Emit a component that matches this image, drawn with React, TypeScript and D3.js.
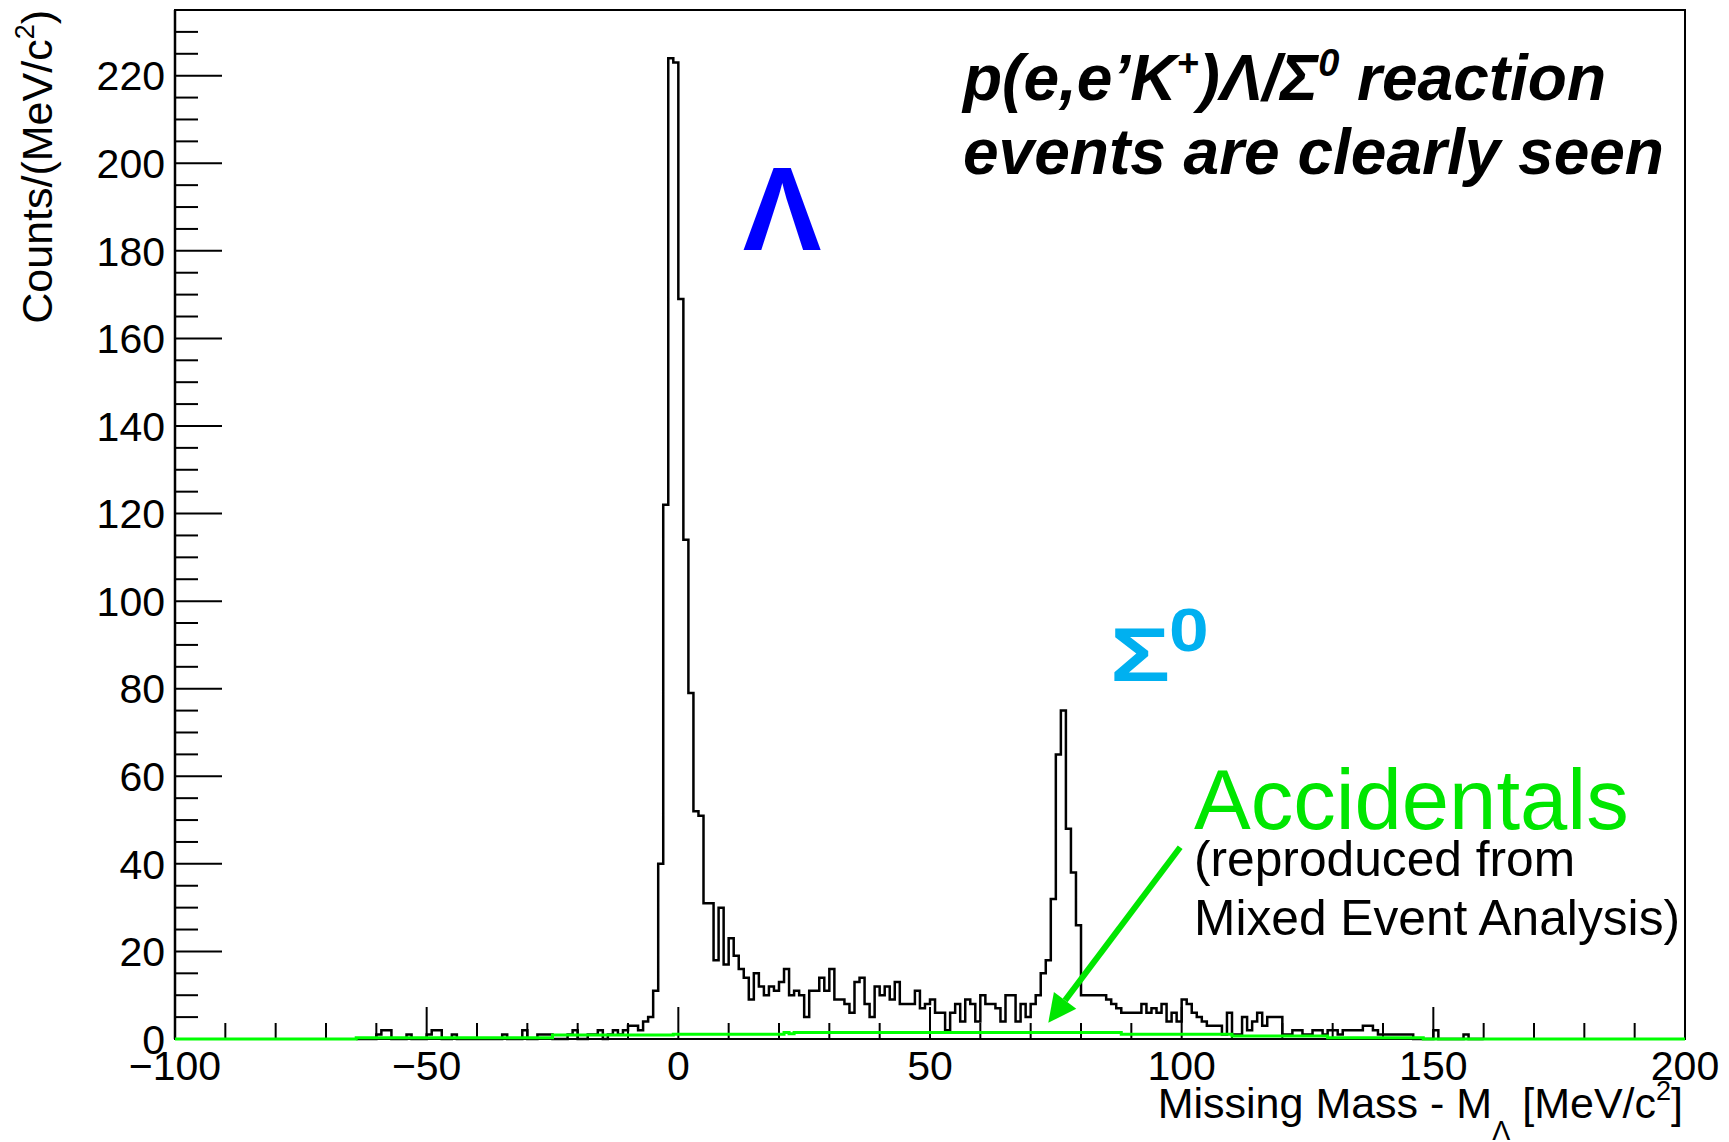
import React from 'react';
import * as d3 from 'd3';

// ---------- data ----------
// Black histogram: 1 MeV/c^2 bins starting at -64 MeV/c^2
const binStart = -64;
const binWidth = 1;
const counts = [
  0, 0, 0, 0, // -64..-61
  1, 2, 2, 0, 0, 0, 1, 0, 0, 0, // -60..-51
  1, 2, 2, 0, 0, 1, 0, 0, 0, 0, // -50..-41
  0, 0, 0, 0, 0, 1, 0, 0, 0, 2, // -40..-31
  0, 0, 1, 1, 1, 0, 0, 0, 1, 2, // -30..-21
  0, 0, 1, 1, 2, 0, 1, 2, 1, 2, // -20..-11
  3, 3, 2, 4, 5, 11, 40, 122, 224, 223, // -10..-1
  169, 114, 79, 52, 51, 31, 31, 18, 30, 17, // 0..9
  23, 19, 16, 14, 9, 15, 12, 10, 12, 11, // 10..19
  13, 16, 10, 11, 10, 5, 11, 11, 14, 11, // 20..29
  16, 9, 9, 8, 6, 13, 14, 8, 5, 12, // 30..39
  10, 12, 9, 13, 8, 8, 8, 11, 7, 8, // 40..49
  9, 6, 6, 2, 6, 8, 4, 9, 8, 4, // 50..59
  10, 8, 8, 7, 4, 10, 10, 4, 8, 5, // 60..69
  8, 10, 15, 18, 32, 65, 75, 48, 38, 26, // 70..79
  10, 10, 10, 10, 10, 9, 8, 7, 6, 6, // 80..89
  6, 6, 8, 6, 7, 6, 8, 4, 6, 4, // 90..99
  9, 8, 6, 5, 4, 3, 3, 3, 1, 6, // 100..109
  1, 1, 5, 2, 4, 6, 3, 5, 5, 5, // 110..119
  1, 1, 2, 2, 1, 1, 2, 2, 1, 2, // 120..129
  2, 1, 2, 2, 2, 2, 3, 3, 2, 1, // 130..139
  1, 1, 1, 1, 1, 1, 0, 0, 0, 0, // 140..149
  2, 0, 0, 0, 0, 0, 1, 0, 0, 0, // 150..159
];

// Accidentals (green): piecewise histogram edges and contents
const accEdges = [-100, -64, -25, -1, 21, 22, 23, 88, 110, 129, 148, 200];
const accValues = [0, 0.3, 0.9, 1.1, 1.5, 1.2, 1.5, 1.1, 0.7, 0.3, 0];

const xMajorTicks = [-100, -50, 0, 50, 100, 150, 200];
const xTickLabels = ['\u2212100', '\u221250', '0', '50', '100', '150', '200'];
const yMajorTicks = [0, 20, 40, 60, 80, 100, 120, 140, 160, 180, 200, 220];
const yTickLabels = ['0', '20', '40', '60', '80', '100', '120', '140', '160', '180', '200', '220'];

const FONT = "'Liberation Sans', Arial, Helvetica, sans-serif";

export default function App() {
  const W = 1729, H = 1142;
  const L = 175, R = 1685, T = 10, B = 1039;
  const x = d3.scaleLinear().domain([-100, 200]).range([L, R]);
  const y = d3.scaleLinear().domain([0, 235]).range([B, T]);

  const line = d3.line<number[]>()
    .x(d => x(d[0]))
    .y(d => y(d[1]))
    .curve(d3.curveStepAfter);

  const hi = binStart + counts.length * binWidth;
  const histPts: number[][] = [
    [binStart, 0],
    ...counts.map((c, i) => [binStart + i * binWidth, c]),
    [hi, counts[counts.length - 1]],
    [hi, 0],
  ];
  const accPts: number[][] = [
    [accEdges[0], 0],
    ...accValues.map((v, i) => [accEdges[i], v]),
    [accEdges[accEdges.length - 1], accValues[accValues.length - 1]],
    [accEdges[accEdges.length - 1], 0],
  ];

  const xMinor = d3.range(-100, 201, 10).filter(v => v % 50 !== 0);
  const yMinor = d3.range(0, 236, 5).filter(v => v % 20 !== 0);

  // arrow (annotation) in data coordinates
  const a0 = [x(99.7), y(43.8)];
  const a1 = [x(73.5), y(3.7)];
  const ang = Math.atan2(a1[1] - a0[1], a1[0] - a0[0]);
  const headLen = 28, headHalf = 14;
  const bx = a1[0] - headLen * Math.cos(ang), by = a1[1] - headLen * Math.sin(ang);
  const px = -Math.sin(ang), py = Math.cos(ang);
  const head = `M${a1[0]},${a1[1]} L${bx + headHalf * px},${by + headHalf * py} L${bx - headHalf * px},${by - headHalf * py} Z`;

  const green = '#00e600';

  return (
    <svg width={W} height={H} style={{ position: 'absolute', left: 0, top: 0, background: '#fff' }}
      xmlns="http://www.w3.org/2000/svg">
      <rect x={0} y={0} width={W} height={H} fill="#fff" />

      {/* ticks */}
      {yMajorTicks.map(v => (
        <line key={'ym' + v} x1={L} x2={L + 47} y1={y(v)} y2={y(v)} stroke="#000" strokeWidth={2} />
      ))}
      {yMinor.map(v => (
        <line key={'yn' + v} x1={L} x2={L + 23} y1={y(v)} y2={y(v)} stroke="#000" strokeWidth={2} />
      ))}
      {xMajorTicks.map(v => (
        <line key={'xm' + v} x1={x(v)} x2={x(v)} y1={B} y2={B - 32} stroke="#000" strokeWidth={2} />
      ))}
      {xMinor.map(v => (
        <line key={'xn' + v} x1={x(v)} x2={x(v)} y1={B} y2={B - 16} stroke="#000" strokeWidth={2} />
      ))}

      {/* frame */}
      <rect x={L} y={T} width={R - L} height={B - T} fill="none" stroke="#000" strokeWidth={2} />
      <line x1={L} x2={L} y1={T} y2={B} stroke="#000" strokeWidth={2.5} />

      {/* histograms */}
      <path d={line(histPts) || ''} fill="none" stroke="#000" strokeWidth={2.5} />
      <path d={line(accPts) || ''} fill="none" stroke="#00ff00" strokeWidth={3} />

      {/* tick labels */}
      {yMajorTicks.map((v, i) => (
        <text key={'yl' + v} x={165} y={y(v)} dy="0.36em" textAnchor="end" fontFamily={FONT} fontSize={41} fill="#000">
          {yTickLabels[i]}
        </text>
      ))}
      {xMajorTicks.map((v, i) => (
        <text key={'xl' + v} x={x(v)} y={1080} textAnchor="middle" fontFamily={FONT} fontSize={41} fill="#000">
          {xTickLabels[i]}
        </text>
      ))}

      {/* axis titles */}
      <text x={1683} y={1118} textAnchor="end" fontFamily={FONT} fontSize={43} fill="#000">
        <tspan>Missing Mass - M</tspan>
        <tspan fontSize={27} dy={22}>{'\u039B'}</tspan>
        <tspan dy={-22} dx={12}>[MeV/c</tspan>
        <tspan fontSize={27} dy={-18}>2</tspan>
        <tspan dy={18}>]</tspan>
      </text>
      <text transform="translate(52,10) rotate(-90)" textAnchor="end" fontFamily={FONT} fontSize={43} fill="#000">
        <tspan>Counts/(MeV/c</tspan>
        <tspan fontSize={27} dy={-18}>2</tspan>
        <tspan dy={18}>)</tspan>
      </text>

      {/* annotations */}
      <text x={963} y={100} fontFamily={FONT} fontSize={64} fontWeight="bold" fontStyle="italic" fill="#000">
        <tspan>p(e,e’K</tspan>
        <tspan fontSize={38} dy={-24}>+</tspan>
        <tspan dy={24}>)Λ/Σ</tspan>
        <tspan fontSize={38} dy={-24}>0</tspan>
        <tspan dy={24}> reaction</tspan>
      </text>
      <text x={963} y={174} fontFamily={FONT} fontSize={64} fontWeight="bold" fontStyle="italic" fill="#000">
        events are clearly seen
      </text>

      <text x={782} y={250} textAnchor="middle" fontFamily={FONT} fontSize={118} fontWeight="bold" fill="#0000ff">Λ</text>
      <g transform="translate(1110,681) scale(1.32,1)">
        <text x={0} y={0} fontFamily={FONT} fontSize={76} fontWeight="bold" fill="#00b0f0">Σ</text>
      </g>
      <g transform="translate(1169,651) scale(1.15,1)">
        <text x={0} y={0} fontFamily={FONT} fontSize={62} fontWeight="bold" fill="#00b0f0">0</text>
      </g>

      <text x={1194} y={829} fontFamily={FONT} fontSize={85} fill={green}>Accidentals</text>
      <text x={1194} y={876} fontFamily={FONT} fontSize={49.7} fill="#000">(reproduced from</text>
      <text x={1194} y={935} fontFamily={FONT} fontSize={49.7} fill="#000">Mixed Event Analysis)</text>

      <line x1={a0[0]} y1={a0[1]} x2={bx} y2={by} stroke={green} strokeWidth={6} />
      <path d={head} fill={green} />
    </svg>
  );
}
